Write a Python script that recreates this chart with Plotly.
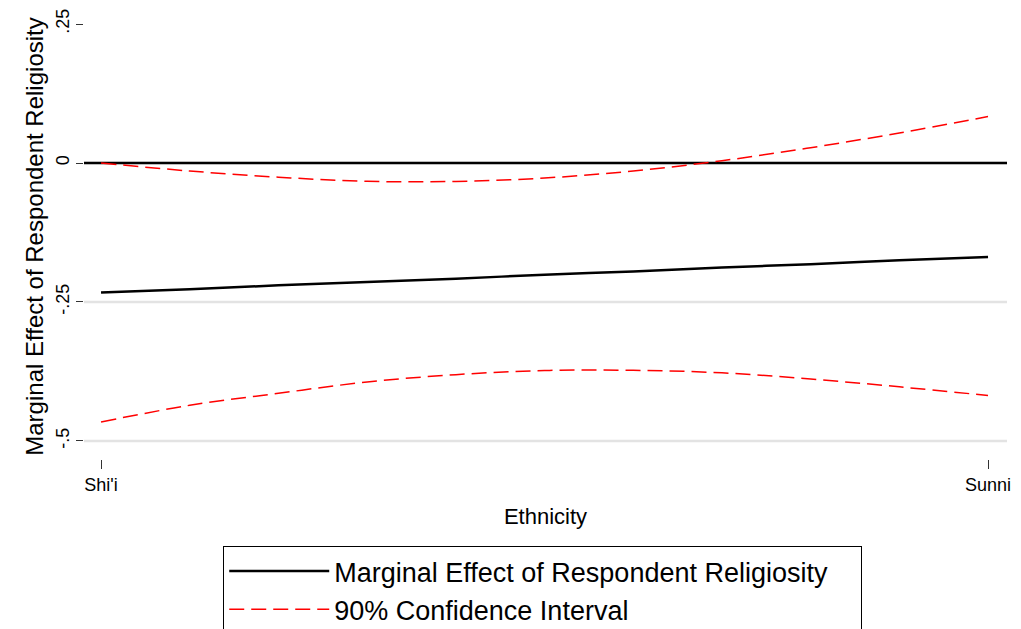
import plotly.graph_objects as go

# Data
x_pos = [0.0, 0.1, 0.2, 0.3, 0.4, 0.5, 0.6, 0.7, 0.8, 0.9, 1.0]
marginal_effect = [-0.233, -0.227, -0.220, -0.214, -0.208, -0.201, -0.195, -0.188, -0.182, -0.175, -0.169]
ci_upper = [0.000, -0.0144, -0.0255, -0.0329, -0.0331, -0.0270, -0.0144, 0.0041, 0.0275, 0.0540, 0.0836]
ci_lower = [-0.4658, -0.4358, -0.4142, -0.3939, -0.3807, -0.3732, -0.3729, -0.3774, -0.3885, -0.4026, -0.4182]
x_tickvals = [0, 1]
x_ticktext = ["Shi'i", "Sunni"]
y_tickvals = [-0.5, -0.25, 0, 0.25]
y_ticktext = ["-.5", "-.25", "0", ".25"]
grid_vals = [-0.5, -0.25, 0]

FONT = "Liberation Sans, Arial, Helvetica, sans-serif"

fig = go.Figure()
fig.add_trace(go.Scatter(
    x=x_pos, y=marginal_effect, mode="lines",
    name="Marginal Effect of Respondent Religiosity",
    line=dict(color="black", width=2.5), line_shape="spline"))
fig.add_trace(go.Scatter(
    x=x_pos, y=ci_upper, mode="lines", name="90% Confidence Interval",
    line=dict(color="red", width=1.5, dash="15px,7px"), line_shape="spline"))
fig.add_trace(go.Scatter(
    x=x_pos, y=ci_lower, mode="lines", name="90% Confidence Interval",
    showlegend=False,
    line=dict(color="red", width=1.5, dash="15px,7px"), line_shape="spline"))

shapes = []
for g in grid_vals:
    shapes.append(dict(type="line", xref="paper", x0=0, x1=1, yref="y", y0=g, y1=g,
                       line=dict(color="#e3e3e3", width=2.5), layer="below"))
shapes.append(dict(type="line", xref="paper", x0=0, x1=1, yref="y", y0=0, y1=0,
                   line=dict(color="black", width=2.5), layer="below"))

# page body has an 8px default margin, so the figure is 8px smaller
fig.update_layout(
    width=1013, height=621,
    paper_bgcolor="white", plot_bgcolor="white",
    margin=dict(l=76, r=14, t=6, b=170, autoexpand=False),
    font=dict(family=FONT, color="black"),
    shapes=shapes,
    showlegend=True,
    legend=dict(orientation="h", entrywidth=522, entrywidthmode="pixels",
                x=0.497, xanchor="center", y=-0.1955, yanchor="top",
                bordercolor="black", borderwidth=1, bgcolor="white",
                font=dict(size=27, family=FONT, color="black"),
                tracegroupgap=0, itemwidth=100),
    xaxis=dict(range=[-0.0192, 1.0214], tickvals=x_tickvals, ticktext=x_ticktext,
               showgrid=False, zeroline=False, showline=False, automargin=False,
               ticks="outside", ticklen=9, tickcolor="#333", tickwidth=1,
               tickfont=dict(size=18), ticklabelstandoff=0,
               title=dict(text="Ethnicity", font=dict(size=22), standoff=15)),
    yaxis=dict(range=[-0.5324, 0.268], tickvals=y_tickvals, ticktext=y_ticktext,
               tickangle=-90, showgrid=False, zeroline=False, showline=False,
               automargin=False,
               ticks="outside", ticklen=7, tickcolor="#333", tickwidth=1,
               tickfont=dict(size=18),
               title=dict(text="Marginal Effect of Respondent Religiosity",
                          font=dict(size=24), standoff=2)),
)

fig.write_html("out.html")
